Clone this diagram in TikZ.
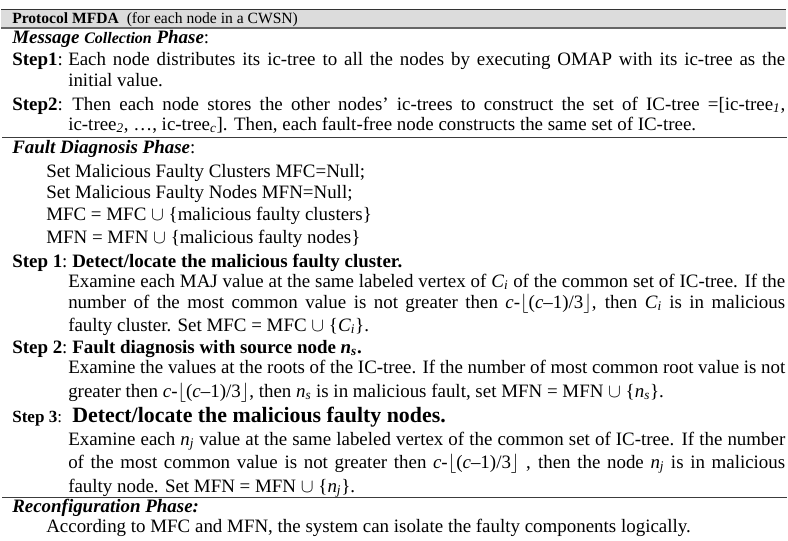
\documentclass[tikz,border=0pt]{standalone}
\usepackage{fontspec}
\setmainfont{Liberation Serif}
\definecolor{headgray}{RGB}{220,220,220}
\definecolor{rulegray}{RGB}{60,60,60}
\newcommand{\bodysize}{\fontsize{14.2pt}{17pt}\selectfont}
\newcommand{\fullline}[1]{\makebox[537.75pt][s]{#1}}
\newcommand{\wideline}[1]{\makebox[534.75pt][s]{#1}}
\newcommand{\sub}[1]{\smash{\textsubscript{\textit{#1}}}}
\newcommand{\floorterm}{\textit{c}-\smash{$\lfloor$}(\textit{c}–1)/3\smash{$\rfloor$}}
\begin{document}
\begin{tikzpicture}[x=0.75pt,y=-0.75pt]

    % Define node styles
    \tikzstyle{body_line} = [anchor=base west, inner sep=0pt, font=\bodysize]
    \tikzstyle{step_label} = [anchor=base west, inner sep=0pt, font=\bodysize]
    \tikzstyle{head_line} = [anchor=base west, inner sep=0pt, font=\fontsize{11.7pt}{14pt}\selectfont]
    \tikzstyle{table_rule} = [draw=rulegray, line width=1.1pt]

    \useasboundingbox (0,0) rectangle (788,540);

    % Header bar
    \fill [headgray] (1,9.5) rectangle (786,28);
    \draw [draw=black!80, line width=1pt] (1,9.5) -- (786,9.5);
    \draw [draw=black!60, line width=1.2pt] (1,28) -- (786,28);
    \node [head_line] (header) at (12,23) {\textbf{Protocol MFDA}\ \ (for each node in a CWSN)};

    % Message collection
    \node [body_line] (msg_phase) at (12,43) {\textbf{\textit{Message} {\fontsize{12pt}{14pt}\selectfont\textit{Collection}} \textit{Phase}}:};
    \node [step_label] (msg_step1) at (12,65) {\textbf{Step1}:};
    \node [body_line] (msg_step1_a) at (68,65) {\fullline{Each node distributes its ic-tree to all the nodes by executing OMAP with its ic-tree as the}};
    \node [body_line] (msg_step1_b) at (68,86) {initial value.};
    \node [step_label] (msg_step2) at (12,110) {\textbf{Step2}:};
    \node [body_line] (msg_step2_a) at (72,110) {\wideline{Then each node stores the other nodes' ic-trees to construct the set of IC-tree =[ic-tree\sub{1},}};
    \node [body_line] (msg_step2_b) at (68,130) {ic-tree\sub{2}, …, ic-tree\sub{c}]. Then, each fault-free node constructs the same set of IC-tree.};

    \draw [table_rule] (2,137.5) -- (787,137.5);

    % Fault diagnosis
    \node [body_line] (fd_phase) at (12,153) {\textbf{\textit{Fault Diagnosis Phase}}:};
    \node [body_line] (fd_init_a) at (46,177) {Set Malicious Faulty Clusters MFC=Null;};
    \node [body_line] (fd_init_b) at (46,198) {Set Malicious Faulty Nodes MFN=Null;};
    \node [body_line] (fd_init_c) at (46,220) {MFC = MFC $\cup$ \{malicious faulty clusters\}};
    \node [body_line] (fd_init_d) at (46,243) {MFN = MFN $\cup$ \{malicious faulty nodes\}};

    \node [step_label] (fd_step1) at (12,267) {\textbf{Step 1}:};
    \node [body_line] (fd_step1_t) at (72,267) {\textbf{Detect/locate the malicious faulty cluster.}};
    \node [body_line] (fd_step1_a) at (68,287) {\fullline{Examine each MAJ value at the same labeled vertex of \textit{C}\sub{i} of the common set of IC-tree. If the}};
    \node [body_line] (fd_step1_b) at (68,308) {\fullline{number of the most common value is not greater then \floorterm, then \textit{C}\sub{i} is in malicious}};
    \node [body_line] (fd_step1_c) at (68,331) {faulty cluster. Set MFC = MFC $\cup$ \{\textit{C}\sub{i}\}.};

    \node [step_label] (fd_step2) at (12,353) {\textbf{Step 2}:};
    \node [body_line] (fd_step2_t) at (72,353) {\textbf{Fault diagnosis with source node \textit{n}\sub{s}.}};
    \node [body_line] (fd_step2_a) at (68,373) {\fullline{Examine the values at the roots of the IC-tree. If the number of most common root value is not}};
    \node [body_line] (fd_step2_b) at (68,397) {greater then \floorterm, then \textit{n}\sub{s} is in malicious fault, set MFN = MFN $\cup$ \{\textit{n}\sub{s}\}.};

    \node [step_label, font=\fontsize{12.8pt}{15pt}\selectfont] (fd_step3) at (12,422) {\textbf{Step 3}:};
    \node [body_line, font=\fontsize{16.4pt}{19pt}\selectfont] (fd_step3_t) at (72,422) {\textbf{Detect/locate the malicious faulty nodes.}};
    \node [body_line] (fd_step3_a) at (68,445) {\fullline{Examine each \textit{n}\sub{j} value at the same labeled vertex of the common set of IC-tree. If the number}};
    \node [body_line] (fd_step3_b) at (68,468) {\fullline{of the most common value is not greater then \floorterm\ , then the node \textit{n}\sub{j} is in malicious}};
    \node [body_line] (fd_step3_c) at (68,492) {faulty node. Set MFN = MFN $\cup$ \{\textit{n}\sub{j}\}.};

    \draw [table_rule] (2,497.5) -- (787,497.5);

    % Reconfiguration
    \node [body_line] (rc_phase) at (12,512) {\textbf{\textit{Reconfiguration Phase:}}};
    \node [body_line] (rc_text) at (46,532) {According to MFC and MFN, the system can isolate the faulty components logically.};

\end{tikzpicture}
\end{document}
